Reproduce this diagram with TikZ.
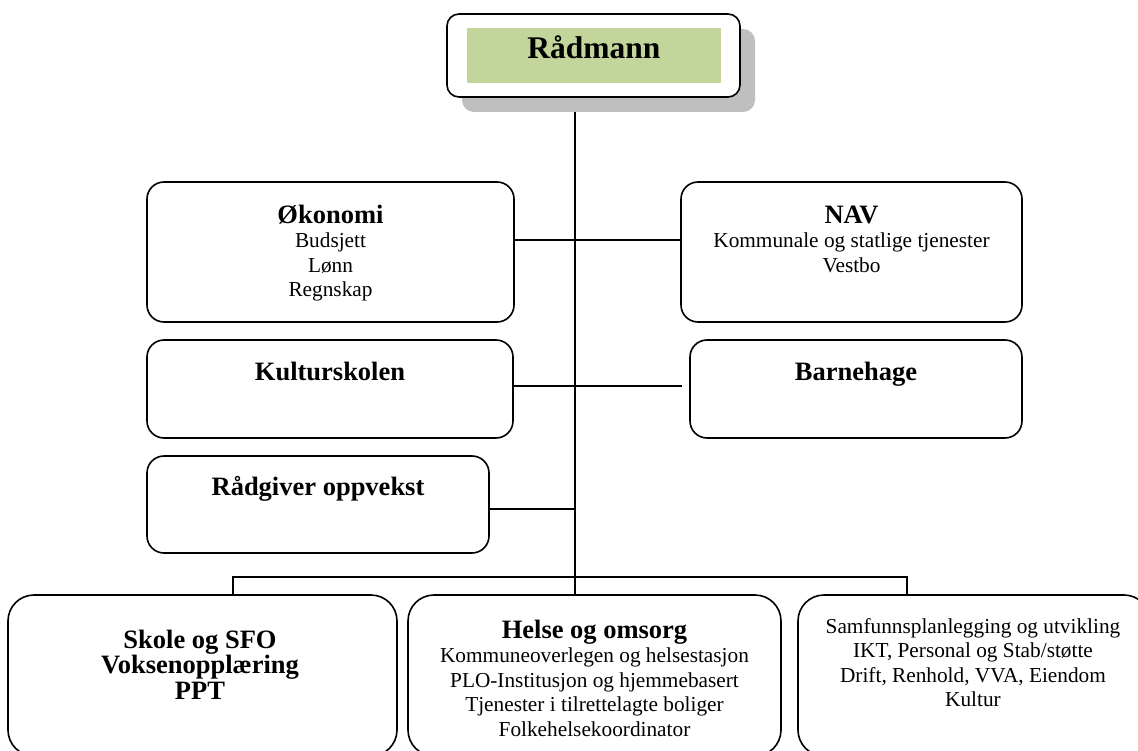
\documentclass[tikz,border=0pt]{standalone}
\usepackage{fontspec}
\setmainfont{Liberation Serif}
\usetikzlibrary{backgrounds,shadows}
\definecolor{olivegreen}{HTML}{C2D69B}
\definecolor{shadowgray}{RGB}{191,191,191}
\newcommand{\hfnt}{\bfseries\fontsize{26.5}{25.5}\selectfont}
\newcommand{\bfnt}{\fontsize{21.3}{24.5}\selectfont}
\newcommand{\tstrut}{\rule{0pt}{0.8em}}
\tikzset{
  orgbox/.style={draw, line width=1.6pt, rounded corners=17pt, fill=white, inner sep=0pt},
  bigbox/.style={orgbox, rounded corners=26pt},
  conn/.style={line width=1.6pt},
  txt/.style={inner sep=0pt, align=center, font=\bfnt},
}
\begin{document}
\begin{tikzpicture}[x=1pt,y=1pt]
\useasboundingbox (0,0) rectangle (1138,-751);
\clip (0,0) rectangle (1138,-751);
% top box
\node[draw, line width=1.6pt, rounded corners=12pt, fill=white, inner sep=0pt,
      minimum width=293pt, minimum height=83pt,
      drop shadow={shadow xshift=15pt, shadow yshift=-15pt, fill=shadowgray, opacity=1}]
      (rad) at (593.5,-55.5) {};
\node[fill=olivegreen, inner sep=0pt, minimum width=254pt, minimum height=55pt] (radg) at (594,-55.5) {};
\node[anchor=base, inner sep=0pt, font=\bfseries\fontsize{31.5}{34}\selectfont] (radt) at (594,-59) {Rådmann};
% middle boxes
\node[orgbox, minimum width=367pt, minimum height=140pt] (okon) at (330.5,-252) {};
\node[orgbox, minimum width=341pt, minimum height=140pt] (nav) at (851.5,-252) {};
\node[orgbox, minimum width=366pt, minimum height=98pt] (kult) at (330,-389) {};
\node[orgbox, minimum width=332pt, minimum height=98pt] (barn) at (856,-389) {};
\node[orgbox, minimum width=342pt, minimum height=97pt] (radg2) at (318,-504.5) {};
% bottom boxes
\node[bigbox, minimum width=389pt, minimum height=161pt] (skole) at (202.5,-675.5) {};
\node[bigbox, minimum width=373pt, minimum height=161pt] (helse) at (594.5,-675.5) {};
\node[bigbox, minimum width=352pt, minimum height=161pt] (samf) at (974,-675.5) {};
% texts
\node[txt, anchor=north] (okont) at (330.5,-201.8) {{\hfnt\tstrut Økonomi}\\ Budsjett\\ Lønn\\ Regnskap};
\node[txt, anchor=north] (navt) at (851.5,-201.8) {{\hfnt\tstrut NAV}\\ Kommunale og statlige tjenester\\ Vestbo};
\node[txt, anchor=base, font=\hfnt] (kultt) at (330,-380) {Kulturskolen};
\node[txt, anchor=base, font=\hfnt] (barnt) at (856,-380) {Barnehage};
\node[txt, anchor=base, font=\hfnt] (radg2t) at (318,-495) {Rådgiver oppvekst};
\node[txt, anchor=north, font=\hfnt] (skolet) at (200,-626.8) {\tstrut Skole og SFO\\ Voksenopplæring\\ PPT};
\node[txt, anchor=north] (helset) at (594.5,-616.8) {{\hfnt\tstrut Helse og omsorg}\\ Kommuneoverlegen og helsestasjon\\ PLO-Institusjon og hjemmebasert\\ Tjenester i tilrettelagte boliger\\ Folkehelsekoordinator};
\node[txt, anchor=north] (samft) at (973,-616.0) {\tstrut Samfunnsplanlegging og utvikling\\ IKT, Personal og Stab/støtte\\ Drift, Renhold, VVA, Eiendom\\ Kultur};
% connectors
\coordinate (trunk) at (575,-97);
\coordinate (busL) at (233,-577);
\coordinate (busM) at (575,-577);
\coordinate (busR) at (907,-577);
\coordinate (barnend) at (682,-386);
\begin{scope}[on background layer]
\draw[conn] (trunk) -- (busM |- helse.north);
\draw[conn] ([yshift=12pt]okon.east) -- ([yshift=12pt]okon.east -| trunk) -- ([yshift=12pt]nav.west);
\draw[conn] ([yshift=3pt]kult.east) -- ([yshift=3pt]kult.east -| trunk) -- (barnend);
\draw[conn] ([yshift=-4.5pt]radg2.east) -- ([yshift=-4.5pt]radg2.east -| trunk);
\draw[conn] (busL |- skole.north) -- (busL) -- (busR) -- (busR |- samf.north);
\end{scope}
\end{tikzpicture}
\end{document}
